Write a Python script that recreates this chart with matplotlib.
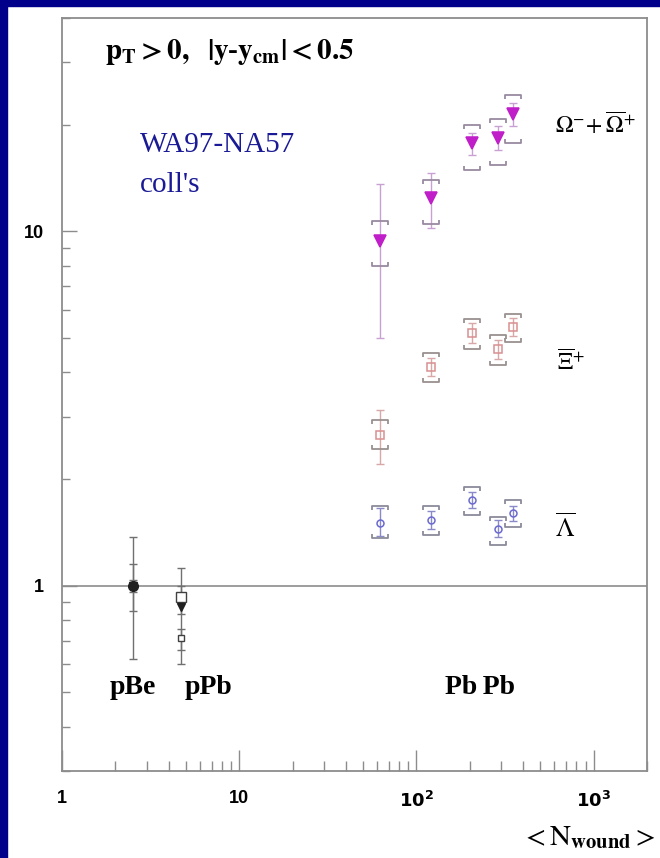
import numpy as np
import matplotlib
matplotlib.use("Agg")
import matplotlib.pyplot as plt
from matplotlib.path import Path
from matplotlib.patches import Rectangle
from matplotlib.ticker import FixedLocator, FixedFormatter, LogLocator, NullFormatter

# PbPb centrality classes (<N_wound>)
n_wound = [62, 121, 206, 290, 350]

# Omega- + anti-Omega+
omega = [9.4, 12.4, 17.7, 18.4, 21.4]
omega_stat_lo = [5.0, 10.2, 16.4, 17.0, 19.8]
omega_stat_hi = [13.6, 14.6, 19.0, 19.8, 23.0]
omega_sys_lo = [8.0, 10.5, 14.9, 15.4, 17.8]
omega_sys_hi = [10.7, 14.0, 20.0, 20.8, 24.2]

# anti-Xi+
xi = [2.66, 4.14, 5.16, 4.65, 5.36]
xi_stat_lo = [2.21, 3.90, 4.85, 4.35, 5.05]
xi_stat_hi = [3.13, 4.40, 5.50, 4.95, 5.70]
xi_sys_lo = [2.43, 3.75, 4.65, 4.19, 4.87]
xi_sys_hi = [2.94, 4.53, 5.65, 5.09, 5.84]

# anti-Lambda
lam = [1.50, 1.53, 1.75, 1.45, 1.60]
lam_stat_lo = [1.38, 1.45, 1.66, 1.37, 1.52]
lam_stat_hi = [1.66, 1.62, 1.84, 1.53, 1.68]
lam_sys_lo = [1.365, 1.39, 1.585, 1.305, 1.466]
lam_sys_hi = [1.68, 1.68, 1.90, 1.565, 1.747]

# reference points pBe, pPb
ref_x = [2.5, 4.7]
ref_omega = [1.0, 0.87]
ref_omega_lo = [0.62, 0.60]
ref_omega_hi = [1.37, 1.12]
ref_xi = [1.0, 0.93]
ref_xi_lo = [0.85, 0.83]
ref_xi_hi = [1.15, 1.0]
ref_lam = [1.0, 0.71]
ref_lam_lo = [0.96, 0.66]
ref_lam_hi = [1.04, 0.757]

x_ticks = [1, 10, 100, 1000]
x_ticklabels = ['1', '10', r'$\mathbf{10^{2}}$', r'$\mathbf{10^{3}}$']
y_ticks = [1, 10]
y_ticklabels = ['1', '10']

W, H = 660, 858
fig = plt.figure(figsize=(W / 100, H / 100), dpi=100)
fig.patch.set_facecolor('white')
fig.patches.append(Rectangle((0, 0), 7 / W, 1, transform=fig.transFigure,
                             color='#00008b', zorder=10))
fig.patches.append(Rectangle((0, 1 - 6 / H), 1, 6 / H, transform=fig.transFigure,
                             color='#00008b', zorder=10))

ax = fig.add_axes([62 / W, 1 - 771 / H, (647 - 62) / W, (771 - 18) / H])
ax.set_xscale('log')
ax.set_yscale('log')
ax.set_xlim(1, 2000)
ax.set_ylim(0.3, 40)

for s in ax.spines.values():
    s.set_color('#8c8c8c')
    s.set_linewidth(1.3)

ax.axhline(1.0, color='#8c8c8c', lw=1.2, zorder=1)

# bracket markers for systematic errors
top_br = Path([(-1, -0.5), (-1, 0), (1, 0), (1, -0.5)],
              [Path.MOVETO, Path.LINETO, Path.LINETO, Path.LINETO])
bot_br = Path([(-1, 0.5), (-1, 0), (1, 0), (1, 0.5)],
              [Path.MOVETO, Path.LINETO, Path.LINETO, Path.LINETO])


def series(y, lo, hi, slo, shi, marker, mcol, ecol, bcol, ms, mfc):
    y = np.array(y)
    yerr = [y - np.array(lo), np.array(hi) - y]
    ax.errorbar(n_wound, y, yerr=yerr, fmt='none', ecolor=ecol, elinewidth=1.0,
                capsize=3, capthick=1.0, zorder=2)
    ax.plot(n_wound, shi, linestyle='none', marker=top_br, ms=12, mec=bcol,
            mfc='none', mew=1.3, zorder=3)
    ax.plot(n_wound, slo, linestyle='none', marker=bot_br, ms=12, mec=bcol,
            mfc='none', mew=1.3, zorder=3)
    ax.plot(n_wound, y, linestyle='none', marker=marker, ms=ms, mec=mcol,
            mfc=mfc, mew=1.1, zorder=4)


series(omega, omega_stat_lo, omega_stat_hi, omega_sys_lo, omega_sys_hi,
       'v', '#c01ec8', '#c8a0d2', '#9a8aa0', 9, '#c01ec8')
series(xi, xi_stat_lo, xi_stat_hi, xi_sys_lo, xi_sys_hi,
       's', '#d89090', '#d8a8a8', '#9a9090', 5.5, 'none')
series(lam, lam_stat_lo, lam_stat_hi, lam_sys_lo, lam_sys_hi,
       'o', '#6a6ad0', '#8a8ac8', '#8a8a9a', 5.0, 'none')

# pBe / pPb reference
for yv, lo, hi in [(ref_omega, ref_omega_lo, ref_omega_hi),
                   (ref_xi, ref_xi_lo, ref_xi_hi),
                   (ref_lam, ref_lam_lo, ref_lam_hi)]:
    yv = np.array(yv)
    ax.errorbar(ref_x, yv, yerr=[yv - np.array(lo), np.array(hi) - yv], fmt='none',
                ecolor='#707070', elinewidth=1.0, capsize=3, capthick=1.0, zorder=2)
ax.plot(ref_x[0], ref_lam[0], 'o', ms=7, color='#202020', zorder=4)
ax.plot(ref_x, ref_omega, 'v', ms=6, color='#202020', zorder=5)
ax.plot(ref_x[1], ref_xi[1], 's', ms=7, mec='#404040', mfc='white', mew=1.0, zorder=4)
ax.plot(ref_x[1], ref_lam[1], 's', ms=5, mec='#404040', mfc='white', mew=1.0, zorder=4)

# ticks
ax.xaxis.set_major_locator(FixedLocator(x_ticks))
ax.xaxis.set_major_formatter(FixedFormatter(x_ticklabels))
ax.xaxis.set_minor_locator(LogLocator(base=10, subs=np.arange(2, 10)))
ax.xaxis.set_minor_formatter(NullFormatter())
ax.yaxis.set_major_locator(FixedLocator(y_ticks))
ax.yaxis.set_major_formatter(FixedFormatter(y_ticklabels))
ax.yaxis.set_minor_locator(LogLocator(base=10, subs=np.arange(2, 10)))
ax.yaxis.set_minor_formatter(NullFormatter())

ax.tick_params(axis='x', which='major', direction='in', length=15, width=1.0,
               color='#8c8c8c', pad=14)
ax.tick_params(axis='x', which='minor', direction='in', length=7, width=1.0,
               color='#8c8c8c')
ax.tick_params(axis='y', which='major', direction='in', length=11, width=1.0,
               color='#8c8c8c', pad=13)
ax.tick_params(axis='y', which='minor', direction='in', length=6, width=1.0,
               color='#8c8c8c')
for lab in ax.get_xticklabels() + ax.get_yticklabels():
    lab.set_fontfamily('Liberation Sans')
    lab.set_fontweight('bold')
    lab.set_fontsize(13)
    lab.set_math_fontfamily('dejavusans')

serif = 'Liberation Serif'


def axpos(px, py):
    # pixel position in the figure -> axes fraction
    return (px - 62) / 585, 1 - (py - 18) / 753


# annotations
ax.text(*axpos(105, 52),
        r'$\mathbf{p_{T} > 0,\ \ |y}$-$\mathbf{y_{cm}| < 0.5}$',
        transform=ax.transAxes, fontsize=21, fontfamily=serif, fontweight='bold',
        math_fontfamily='stix', va='center', ha='left')
ax.text(*axpos(140, 145), 'WA97-NA57',
        transform=ax.transAxes, fontsize=21, fontfamily=serif, color='#1a1a96',
        va='center', ha='left')
ax.text(*axpos(140, 185), "coll's",
        transform=ax.transAxes, fontsize=21, fontfamily=serif, color='#1a1a96',
        va='center', ha='left')

ax.text(*axpos(555, 125), r'$\Omega^{-}\!+\overline{\Omega}^{+}$',
        transform=ax.transAxes, fontsize=17, math_fontfamily='stix',
        va='center', ha='left')
ax.text(*axpos(557, 363), r'$\overline{\Xi}^{+}$',
        transform=ax.transAxes, fontsize=17, math_fontfamily='stix',
        va='center', ha='left')
ax.text(*axpos(555, 528), r'$\overline{\Lambda}$',
        transform=ax.transAxes, fontsize=19, math_fontfamily='stix',
        va='center', ha='left')

ax.text(*axpos(110, 688), 'pBe',
        transform=ax.transAxes, fontsize=20, fontfamily=serif, fontweight='bold',
        va='center', ha='left')
ax.text(*axpos(185, 688), 'pPb',
        transform=ax.transAxes, fontsize=20, fontfamily=serif, fontweight='bold',
        va='center', ha='left')
ax.text(*axpos(445, 688), 'Pb\u2009Pb',
        transform=ax.transAxes, fontsize=20, fontfamily=serif, fontweight='bold',
        va='center', ha='left')

fig.text(655 / W, 1 - 837 / H, r'$<\mathrm{N}_{\mathbf{wound}}>$',
         fontsize=21, math_fontfamily='stix', ha='right', va='center')

fig.savefig('out.png', dpi=100)
